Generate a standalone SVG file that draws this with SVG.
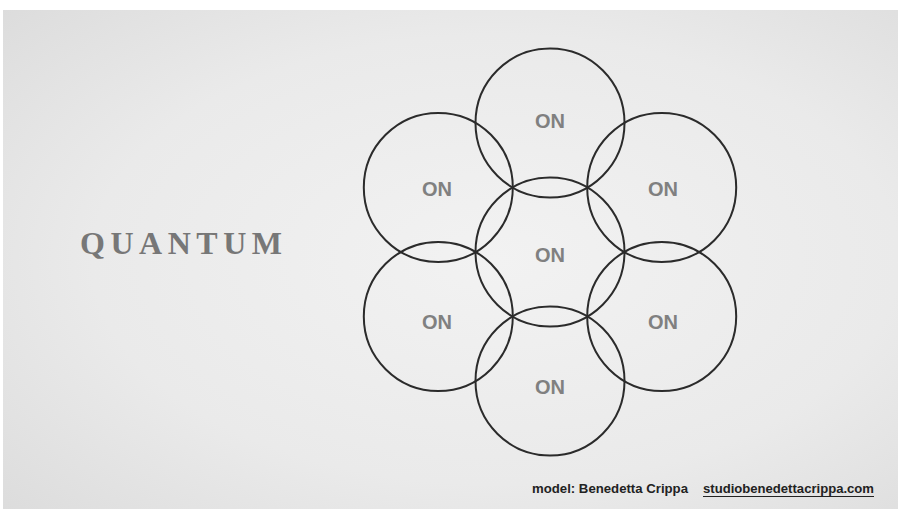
<svg xmlns="http://www.w3.org/2000/svg" width="898" height="509" viewBox="0 0 898 509">
  <defs>
    <radialGradient id="bg" cx="0.55" cy="0.5" r="0.75">
      <stop offset="0" stop-color="#f2f2f2"/>
      <stop offset="0.6" stop-color="#eaeaea"/>
      <stop offset="1" stop-color="#dcdcdc"/>
    </radialGradient>
  </defs>
  <style>
    .c { fill: none; stroke: #2b2b2b; stroke-width: 2; }
    .on { font-family: "Liberation Sans", Arial, sans-serif; font-weight: bold; font-size: 20px; fill: #808080; text-anchor: middle; }
    .foot { font-family: "Liberation Sans", Arial, sans-serif; font-weight: bold; font-size: 12px; fill: #222; }
  </style>
  <rect x="0" y="0" width="898" height="509" fill="#ffffff"/>
  <rect x="3" y="10" width="895" height="499" fill="url(#bg)"/>
  <text x="80" y="254" font-family="Liberation Serif, Times New Roman, serif" font-weight="bold" font-size="32" fill="#777777" textLength="202" lengthAdjust="spacing">QUANTUM</text>
  <g id="n-top"><circle class="c" cx="550" cy="123" r="74.5"/><text class="on" x="550" y="128">ON</text></g>
  <g id="n-ul"><circle class="c" cx="438.3" cy="187.5" r="74.5"/><text class="on" x="437" y="196">ON</text></g>
  <g id="n-ur"><circle class="c" cx="661.7" cy="187.5" r="74.5"/><text class="on" x="663" y="196">ON</text></g>
  <g id="n-center"><circle class="c" cx="550" cy="252" r="74.5"/><text class="on" x="550" y="262">ON</text></g>
  <g id="n-ll"><circle class="c" cx="438.3" cy="316.5" r="74.5"/><text class="on" x="437" y="329">ON</text></g>
  <g id="n-lr"><circle class="c" cx="661.7" cy="316.5" r="74.5"/><text class="on" x="663" y="329">ON</text></g>
  <g id="n-bottom"><circle class="c" cx="550" cy="381" r="74.5"/><text class="on" x="550" y="394">ON</text></g>
  <g id="connectors"></g>
  <text class="foot" x="532" y="493" textLength="156" lengthAdjust="spacingAndGlyphs">model: Benedetta Crippa</text>
  <text class="foot" x="703" y="493" textLength="171" lengthAdjust="spacingAndGlyphs">studiobenedettacrippa.com</text>
  <line x1="703" y1="496.5" x2="874" y2="496.5" stroke="#222" stroke-width="1"/>
</svg>
